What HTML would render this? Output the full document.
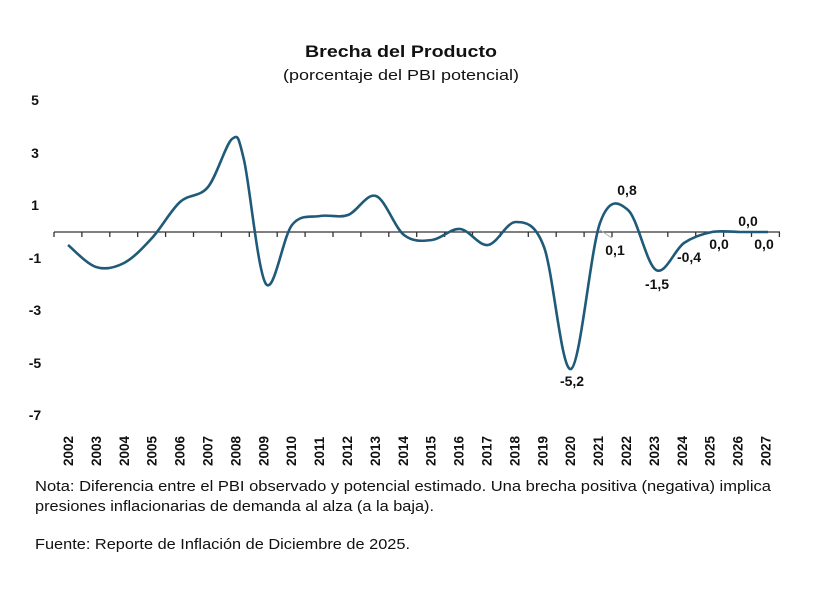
<!DOCTYPE html>
<html><head><meta charset="utf-8"><style>
body{margin:0;background:#fff;font-family:"Liberation Sans",Arial,sans-serif;}
</style></head><body>
<svg width="821" height="591" xmlns="http://www.w3.org/2000/svg" font-family="Liberation Sans, Arial, sans-serif">
<rect width="821" height="591" fill="#fff"/>
<text x="305" y="57" font-size="17" font-weight="bold" fill="#111" textLength="192" lengthAdjust="spacingAndGlyphs">Brecha del Producto</text>
<text x="283" y="80" font-size="15" fill="#111" textLength="236" lengthAdjust="spacingAndGlyphs">(porcentaje del PBI potencial)</text>
<g font-size="14" font-weight="bold" fill="#111" text-anchor="middle">
<text x="35" y="105">5</text><text x="35" y="158">3</text><text x="35" y="210">1</text>
<text x="35" y="263">-1</text><text x="35" y="315">-3</text><text x="35" y="368">-5</text><text x="35" y="420">-7</text>
</g>
<line x1="54" y1="232" x2="780" y2="232" stroke="#333" stroke-width="1.3"/>
<g id="ticks" stroke="#333" stroke-width="1.3"></g>
<g id="xl" font-size="13.5" font-weight="bold" fill="#111"></g>
<path id="curve" fill="none" stroke="#1f5a78" stroke-width="2.6" stroke-linejoin="round"/>
<line x1="600" y1="230" x2="612" y2="238" stroke="#aaa" stroke-width="1"/>
<g font-size="14" font-weight="bold" fill="#111" text-anchor="middle">
<text x="627" y="195">0,8</text><text x="615" y="255">0,1</text><text x="572" y="386">-5,2</text>
<text x="657" y="289">-1,5</text><text x="689" y="262">-0,4</text><text x="719" y="249">0,0</text>
<text x="748" y="226">0,0</text><text x="764" y="249">0,0</text>
</g>
<g font-size="15" fill="#111">
<text x="35" y="491" textLength="736" lengthAdjust="spacingAndGlyphs">Nota: Diferencia entre el PBI observado y potencial estimado. Una brecha positiva (negativa) implica</text>
<text x="35" y="511" textLength="399" lengthAdjust="spacingAndGlyphs">presiones inflacionarias de demanda al alza (a la baja).</text>
<text x="35" y="549" textLength="375" lengthAdjust="spacingAndGlyphs">Fuente: Reporte de Inflación de Diciembre de 2025.</text>
</g>
</svg>
<script>
var ns="http://www.w3.org/2000/svg";
var t=document.getElementById('ticks'),xl=document.getElementById('xl');
for(var i=0;i<=26;i++){var x=54+i*27.9;var l=document.createElementNS(ns,'line');l.setAttribute('x1',x);l.setAttribute('x2',x);l.setAttribute('y1',232);l.setAttribute('y2',237);t.appendChild(l);}
for(var i=0;i<26;i++){var x=68+i*27.9+5;var tx=document.createElementNS(ns,'text');tx.setAttribute('transform','translate('+x+',466) rotate(-90)');tx.textContent=2002+i;xl.appendChild(tx);}
var p=[[68,245],[96,267],[124,263],[152,238],[180,202],[208,187],[232,139],[244,160],[266,284],[292,225],[320,216],[348,215],[376,196],[404,235],[432,240],[460,229],[488,245],[516,222],[544,247],[571,369],[600,223],[628,210],[656,270],[684,243],[712,232],[740,232],[768,232]];
var d="M"+p[0][0]+","+p[0][1];
for(var i=0;i<p.length-1;i++){var a=p[Math.max(0,i-1)],b=p[i],c=p[i+1],e=p[Math.min(p.length-1,i+2)];
d+=" C"+(b[0]+(c[0]-a[0])/6)+","+(b[1]+(c[1]-a[1])/6)+" "+(c[0]-(e[0]-b[0])/6)+","+(c[1]-(e[1]-b[1])/6)+" "+c[0]+","+c[1];}
document.getElementById('curve').setAttribute('d',d);
</script>
</body></html>
